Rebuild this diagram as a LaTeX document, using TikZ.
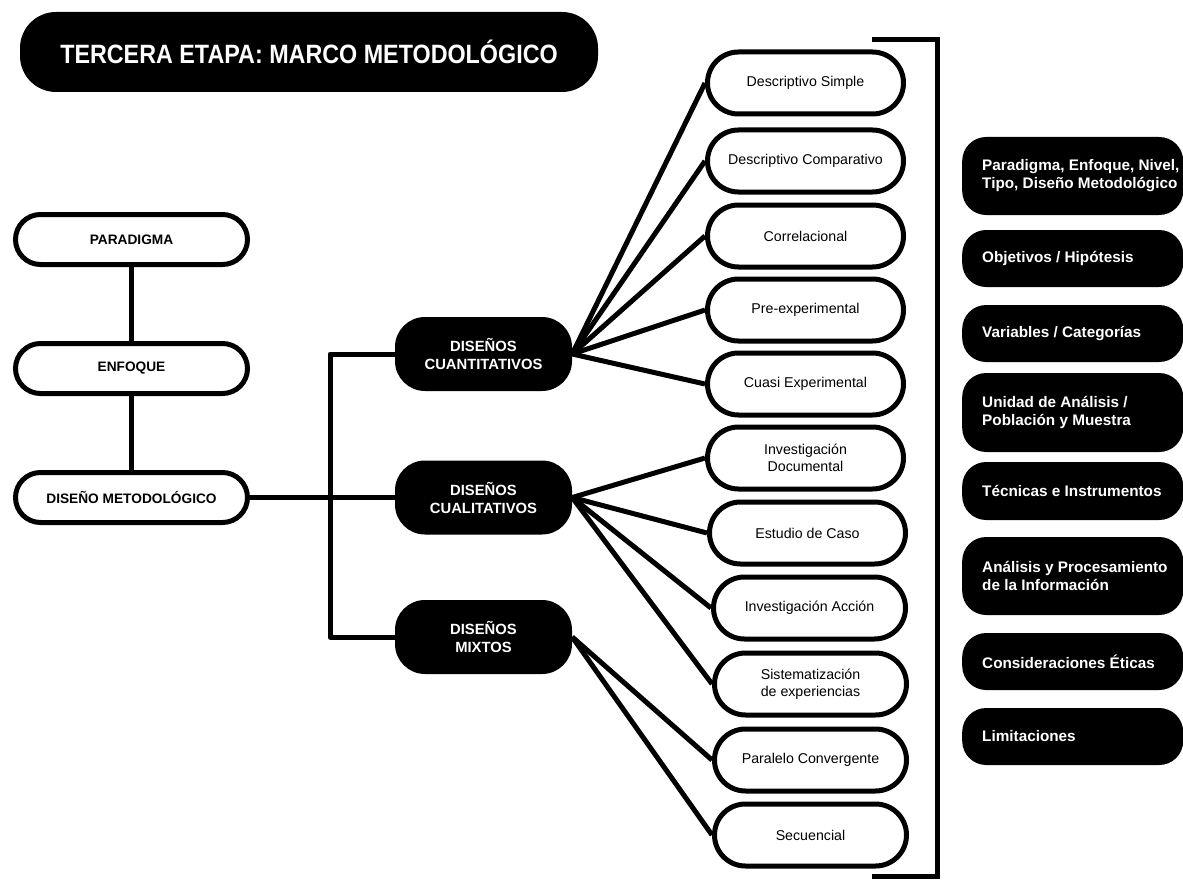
\documentclass[tikz,border=0pt]{standalone}
\usepackage{fontspec}
\setmainfont{Liberation Sans}
\newfontfamily\titlefont[FakeStretch=0.88]{Liberation Sans}
\usetikzlibrary{backgrounds}

\tikzset{
  link/.style={line width=5pt, line join=round},
  whitepill/.style={draw, line width=5pt, fill=white, rounded corners=#1,
    inner sep=0pt, align=center, font=\fontsize{14.2}{17}\selectfont},
  whitepill/.default=25pt,
  blackmid/.style={fill=black, text=white, rounded corners=30pt,
    minimum width=177pt, minimum height=74pt, inner sep=0pt, align=center,
    font=\bfseries\fontsize{14.8}{18}\selectfont},
  sidebox/.style={fill=black, text=white, rounded corners=24pt,
    anchor=west, inner xsep=20pt, inner ysep=0pt, text width=181pt,
    align=flush left, minimum height=#1,
    font=\bfseries\fontsize{15.3}{18}\selectfont},
  leftbox/.style={whitepill=25pt, minimum width=232pt, minimum height=50pt,
    font=\bfseries\fontsize{13.7}{16}\selectfont},
  colbox/.style={whitepill=31pt, minimum width=196pt, minimum height=62pt},
  colboxr/.style={whitepill=31pt, minimum width=192pt, minimum height=62pt},
}

\begin{document}
\begin{tikzpicture}[x=1pt, y=-1pt]
\useasboundingbox (0,0) rectangle (1183,880);

% heading
\node[fill=black, text=white, rounded corners=36pt, minimum width=578pt,
  minimum height=80pt, inner sep=0pt,
  font=\titlefont\bfseries\fontsize{26.5}{30}\selectfont]
  (title) at (309,52) {TERCERA ETAPA: MARCO METODOLÓGICO};

% left chain
\node[leftbox] (par) at (131.5,239.5) {PARADIGMA};
\node[leftbox] (enf) at (131.5,368.5) {ENFOQUE};
\node[leftbox] (dis) at (131.5,497.5) {DISEÑO METODOLÓGICO};

% design families
\node[blackmid] (cuan) at (483.5,354) {DISEÑOS\\CUANTITATIVOS};
\node[blackmid] (cual) at (483.5,497.5) {DISEÑOS\\CUALITATIVOS};
\node[blackmid] (mix)  at (483.5,637) {DISEÑOS\\MIXTOS};

% design types
\node[colbox]  (d1)  at (805.5,83)  {Descriptivo Simple};
\node[colbox]  (d2)  at (805.5,161) {Descriptivo Comparativo};
\node[colbox]  (d3)  at (805.5,236) {Correlacional};
\node[colbox]  (d4)  at (805.5,310) {Pre-experimental};
\node[colbox]  (d5)  at (805.5,384) {Cuasi Experimental};
\node[colbox]  (d6)  at (805.5,458) {Investigación\\Documental};
\node[colbox]  (d7)  at (807.5,533) {Estudio de Caso};
\node[colboxr] (d8)  at (809.5,608) {Investigación Acción};
\node[colboxr] (d9)  at (810.5,684) {Sistematización\\de experiencias};
\node[colboxr] (d10) at (810.5,760) {Paralelo Convergente};
\node[colboxr] (d11) at (810.5,835) {Secuencial};

% bracket
\coordinate (bt) at (872,40);
\coordinate (br) at (937,40);
\coordinate (bb) at (937,876);
\coordinate (bl) at (872,876);
\draw[line width=5pt] (bt) -- (br) -- (bb) -- (bl);

% methodological chapter contents
\node[sidebox=78pt] (s1) at (962,176)   {\mbox{Paradigma, Enfoque, Nivel,}\\\mbox{Tipo, Diseño Metodológico}};
\node[sidebox=57pt] (s2) at (962,258.5) {\mbox{Objetivos / Hipótesis}};
\node[sidebox=57pt] (s3) at (962,333.5) {\mbox{Variables / Categorías}};
\node[sidebox=79pt] (s4) at (962,412.5) {\mbox{Unidad de Análisis /}\\\mbox{Población y Muestra}};
\node[sidebox=58pt] (s5) at (962,491)   {\mbox{Técnicas e Instrumentos}};
\node[sidebox=78pt] (s6) at (962,576)   {\mbox{Análisis y Procesamiento}\\\mbox{de la Información}};
\node[sidebox=57pt] (s7) at (962,661.5) {\mbox{Consideraciones Éticas}};
\node[sidebox=57pt] (s8) at (962,736.5) {\mbox{Limitaciones}};

% connectors
\begin{pgfonlayer}{background}
  \coordinate (jx) at (330,0);
  \draw[link] (par) -- (enf);
  \draw[link] (enf) -- (dis);
  \draw[link] (dis.east) -- (cual.west);
  \draw[link] (cuan.west) -- (cuan.west -| jx) -- (mix.west -| jx) -- (mix.west);
  \foreach \t in {d1,d2,d3,d4,d5} \draw[link] (cuan.east) -- (\t.west);
  \foreach \t in {d6,d7,d8,d9} \draw[link] (cual.east) -- (\t.west);
  \foreach \t in {d10,d11} \draw[link] (mix.east) -- (\t.west);
\end{pgfonlayer}
\end{tikzpicture}
\end{document}
